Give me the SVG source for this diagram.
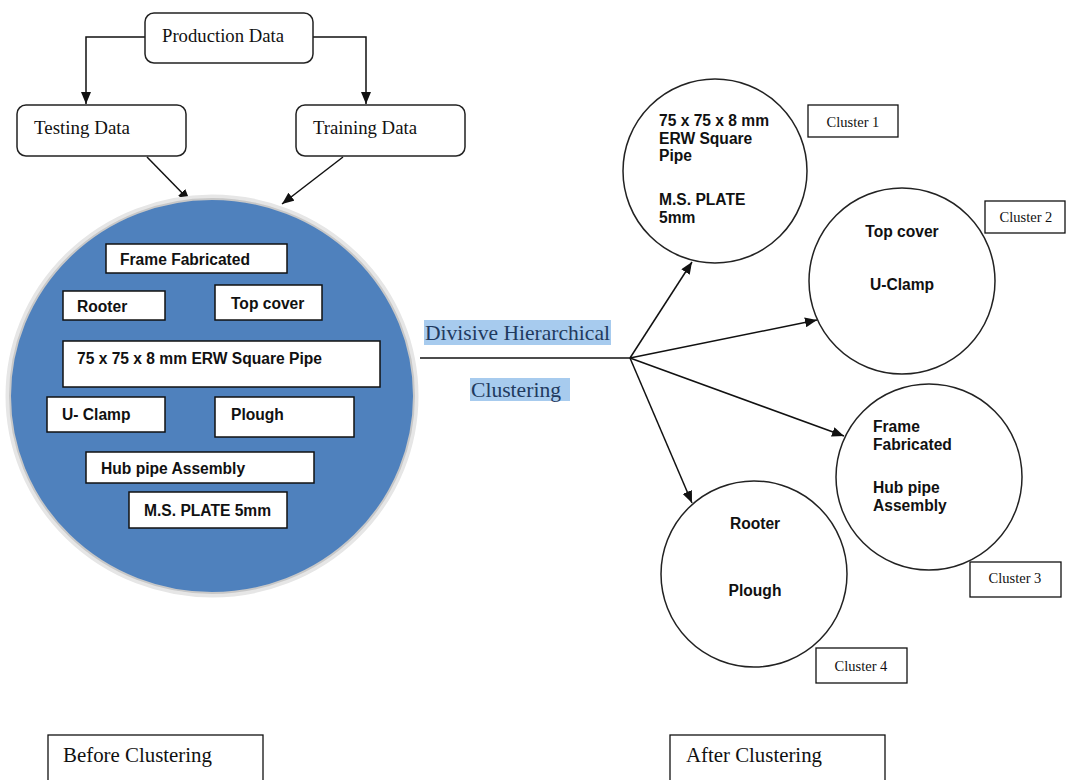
<svg xmlns="http://www.w3.org/2000/svg" width="1067" height="780" viewBox="0 0 1067 780">
<style>
.rbox{fill:#fff;stroke:#222;stroke-width:1.5}
.ibox{fill:#fff;stroke:#111;stroke-width:1.5}
.sbox{fill:#fff;stroke:#111;stroke-width:1.3}
.circ{fill:#fff;stroke:#222;stroke-width:1.5}
.ser{font-family:"Liberation Serif","Times New Roman",serif;fill:#111}
.bold{font-family:"Liberation Sans",Arial,sans-serif;font-weight:bold;font-size:15.6px;fill:#111}
.blue{font-family:"Liberation Serif","Times New Roman",serif;font-size:21.5px;fill:#1f3a5f}
.conn{fill:none;stroke:#111;stroke-width:1.5}
</style>
<defs>
<marker id="ah" markerWidth="12" markerHeight="10" refX="12" refY="5" orient="auto" markerUnits="userSpaceOnUse">
<path d="M0,0 L12,5 L0,10 z" fill="#111"/>
</marker>
</defs>
<rect width="1067" height="780" fill="#fff"/>

<g id="connectors">
<polyline class="conn" points="145,37 86,37 86,104" marker-end="url(#ah)"/>
<polyline class="conn" points="313,37 366,37 366,104" marker-end="url(#ah)"/>
<line class="conn" x1="147" y1="157" x2="190" y2="201" marker-end="url(#ah)"/>
<line class="conn" x1="343" y1="157" x2="282" y2="204" marker-end="url(#ah)"/>
<line class="conn" x1="420" y1="358" x2="630" y2="358"/>
<line class="conn" x1="630" y1="358" x2="692" y2="262" marker-end="url(#ah)"/>
<line class="conn" x1="630" y1="358" x2="817" y2="320" marker-end="url(#ah)"/>
<line class="conn" x1="630" y1="358" x2="844" y2="436" marker-end="url(#ah)"/>
<line class="conn" x1="630" y1="358" x2="692" y2="503" marker-end="url(#ah)"/>
</g>

<g id="production">
<rect class="rbox" x="145" y="13" width="168" height="50" rx="9"/>
<text class="ser" x="162" y="42" font-size="19" textLength="122" lengthAdjust="spacingAndGlyphs">Production Data</text>
</g>
<g id="testing">
<rect class="rbox" x="17" y="105" width="169" height="51" rx="9"/>
<text class="ser" x="34" y="134" font-size="19" textLength="96" lengthAdjust="spacingAndGlyphs">Testing Data</text>
</g>
<g id="training">
<rect class="rbox" x="296" y="105" width="169" height="51" rx="9"/>
<text class="ser" x="313" y="134" font-size="19" textLength="104" lengthAdjust="spacingAndGlyphs">Training Data</text>
</g>

<g id="before-set">
<ellipse cx="212" cy="396" rx="204" ry="199" fill="none" stroke="#e6e6e6" stroke-width="5"/>
<ellipse cx="212" cy="396" rx="202" ry="197" fill="#4f81bd" stroke="#c8c8c8" stroke-width="2"/>
<rect class="ibox" x="106" y="244" width="181" height="29"/>
<text class="bold" x="120" y="265">Frame Fabricated</text>
<rect class="ibox" x="63" y="291" width="102" height="29"/>
<text class="bold" x="77" y="312">Rooter</text>
<rect class="ibox" x="215" y="285" width="107" height="35"/>
<text class="bold" x="231" y="309">Top cover</text>
<rect class="ibox" x="63" y="341" width="317" height="46"/>
<text class="bold" x="77" y="364">75 x 75 x 8 mm ERW Square Pipe</text>
<rect class="ibox" x="47" y="397" width="118" height="35"/>
<text class="bold" x="62" y="420">U- Clamp</text>
<rect class="ibox" x="215" y="397" width="139" height="40"/>
<text class="bold" x="231" y="420">Plough</text>
<rect class="ibox" x="86" y="452" width="228" height="31"/>
<text class="bold" x="101" y="474">Hub pipe Assembly</text>
<rect class="ibox" x="129" y="492" width="158" height="36"/>
<text class="bold" x="144" y="516">M.S. PLATE 5mm</text>
</g>

<g id="method-label">
<rect x="424" y="320" width="187" height="25" fill="#a7cbee"/>
<text class="blue" x="425" y="340" textLength="185" lengthAdjust="spacingAndGlyphs">Divisive Hierarchical</text>
<rect x="470" y="378" width="100" height="23" fill="#a7cbee"/>
<text class="blue" x="471" y="397" textLength="90" lengthAdjust="spacingAndGlyphs">Clustering</text>
</g>

<g id="cluster1">
<circle class="circ" cx="715" cy="171" r="92"/>
<text class="bold" x="659" y="126">75 x 75 x 8 mm</text>
<text class="bold" x="659" y="144">ERW Square</text>
<text class="bold" x="659" y="161">Pipe</text>
<text class="bold" x="659" y="205">M.S. PLATE</text>
<text class="bold" x="659" y="223">5mm</text>
<rect class="sbox" x="808" y="105" width="90" height="32"/>
<text class="ser" x="853" y="127" font-size="14.5" text-anchor="middle">Cluster 1</text>
</g>

<g id="cluster2">
<circle class="circ" cx="902" cy="281" r="93"/>
<text class="bold" x="902" y="237" text-anchor="middle">Top cover</text>
<text class="bold" x="902" y="290" text-anchor="middle">U-Clamp</text>
<rect class="sbox" x="985" y="201" width="80" height="32"/>
<text class="ser" x="1026" y="222" font-size="14.5" text-anchor="middle">Cluster 2</text>
</g>

<g id="cluster3">
<circle class="circ" cx="929" cy="477" r="93"/>
<text class="bold" x="873" y="432">Frame</text>
<text class="bold" x="873" y="450">Fabricated</text>
<text class="bold" x="873" y="493">Hub pipe</text>
<text class="bold" x="873" y="511">Assembly</text>
<rect class="sbox" x="970" y="562" width="91" height="35"/>
<text class="ser" x="1015" y="583" font-size="14.5" text-anchor="middle">Cluster 3</text>
</g>

<g id="cluster4">
<circle class="circ" cx="754" cy="574" r="93"/>
<text class="bold" x="755" y="529" text-anchor="middle">Rooter</text>
<text class="bold" x="755" y="596" text-anchor="middle">Plough</text>
<rect class="sbox" x="816" y="648" width="91" height="35"/>
<text class="ser" x="861" y="671" font-size="14.5" text-anchor="middle">Cluster 4</text>
</g>

<g id="before-label">
<rect class="sbox" x="48" y="735" width="215" height="60"/>
<text class="ser" x="63" y="762" font-size="20" textLength="149" lengthAdjust="spacingAndGlyphs">Before Clustering</text>
</g>
<g id="after-label">
<rect class="sbox" x="670" y="735" width="215" height="60"/>
<text class="ser" x="686" y="762" font-size="20" textLength="136" lengthAdjust="spacingAndGlyphs">After Clustering</text>
</g>
</svg>
